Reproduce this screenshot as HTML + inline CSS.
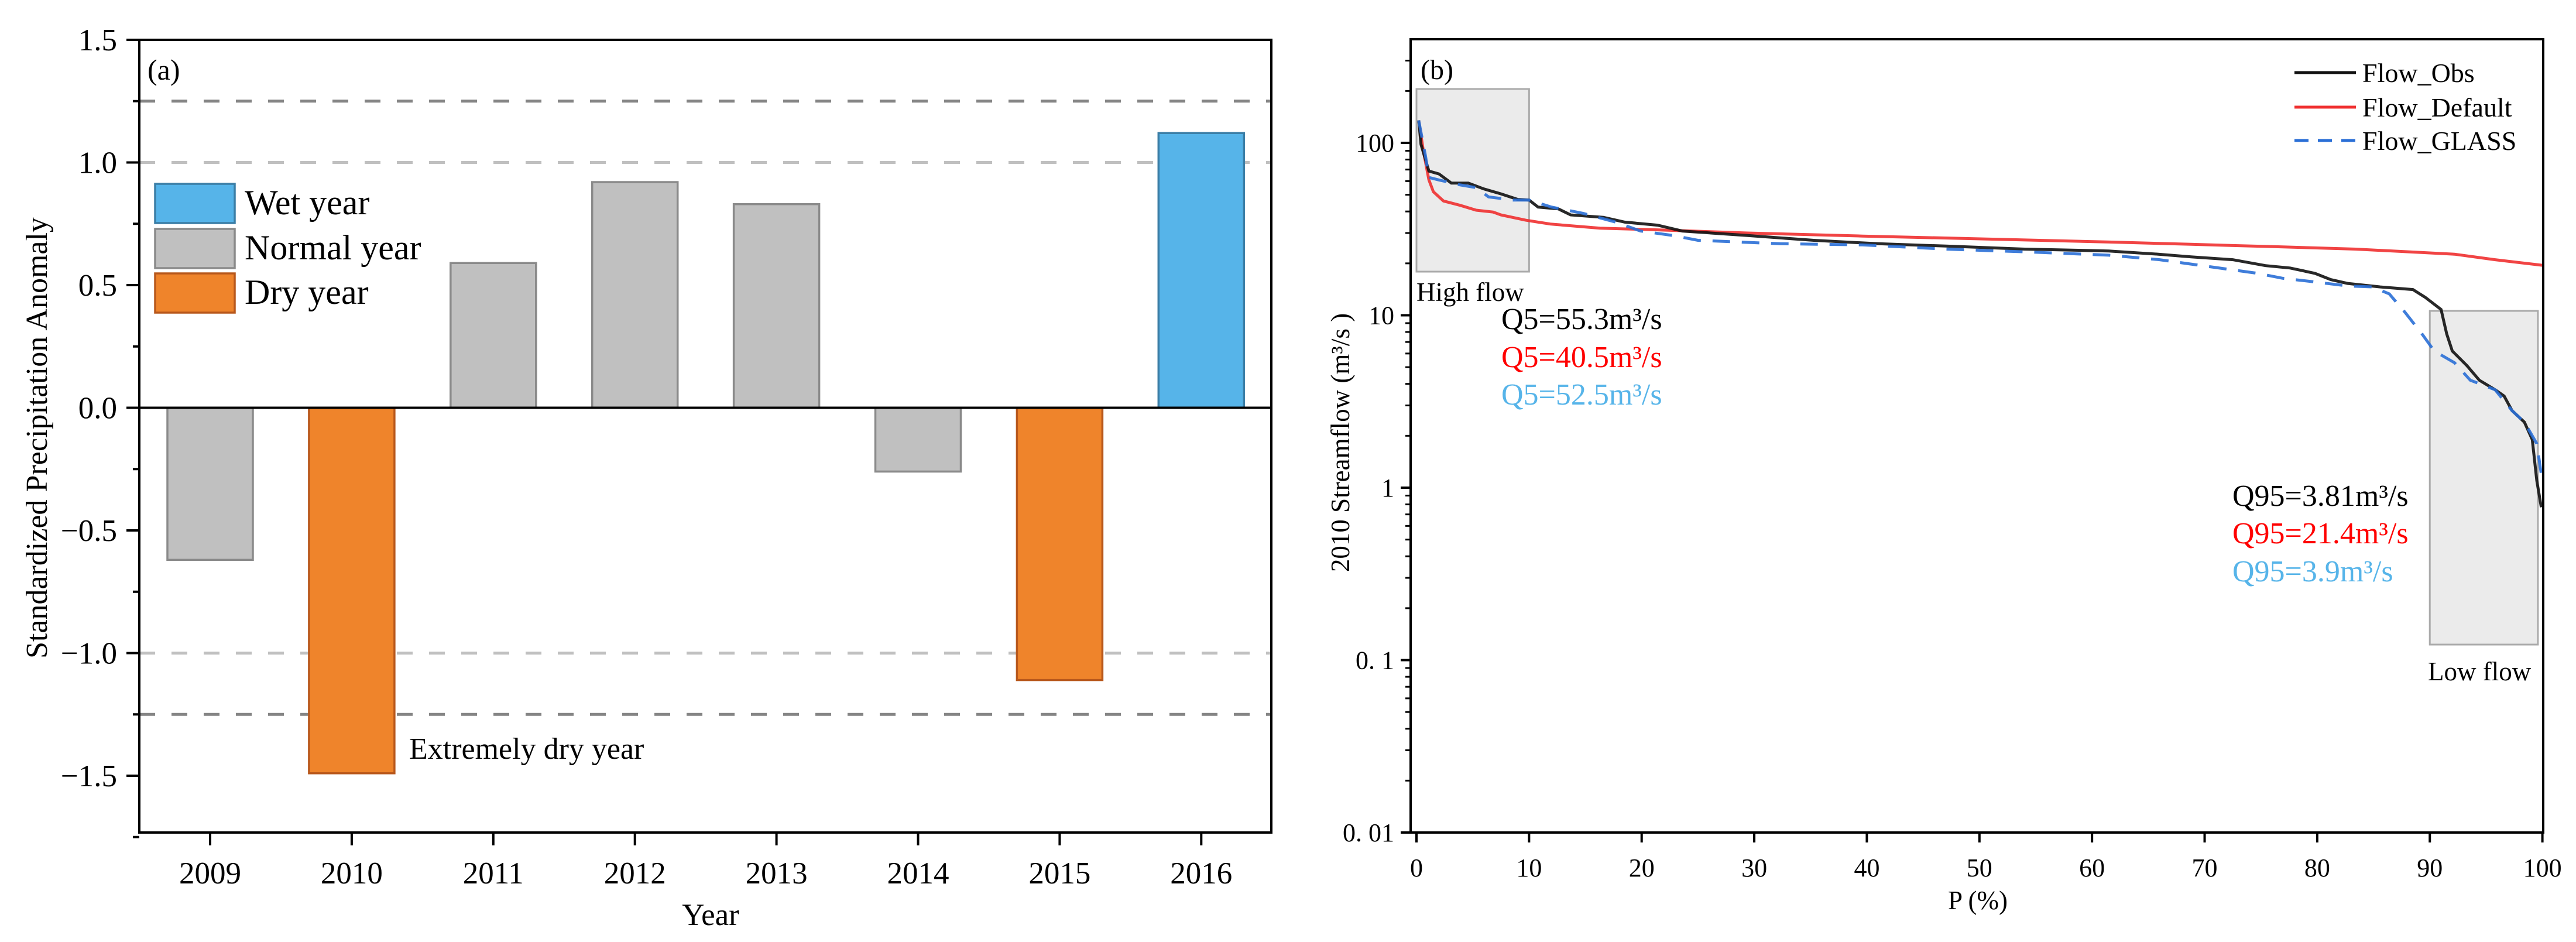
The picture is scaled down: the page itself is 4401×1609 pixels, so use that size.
<!DOCTYPE html>
<html><head><meta charset="utf-8"><style>
html,body{margin:0;padding:0;background:#fff;}
svg{display:block;font-family:"Liberation Serif",serif;}
svg text{font-family:"Liberation Serif","Times New Roman",serif;}
</style></head><body>
<svg id="fig" width="4401" height="1609" viewBox="0 0 4401 1609" xmlns="http://www.w3.org/2000/svg" font-family="Liberation Serif, serif">
<g id="pa"></g>
<g id="pb"></g>
</svg>
<script>
// ---------- Panel (a) data ----------
const years = ['2009','2010','2011','2012','2013','2014','2015','2016'];
const anomaly = [-0.62,-1.49,0.59,0.92,0.83,-0.26,-1.11,1.12];
const yearClass = ['normal','dry','normal','normal','normal','normal','dry','wet'];
const aTicks = [1.5,1.0,0.5,0.0,-0.5,-1.0,-1.5];
const aTickLabels = ['1.5','1.0','0.5','0.0','\u22120.5','\u22121.0','\u22121.5'];
const thresholds = [1.25,1.0,-1.0,-1.25];

// ---------- Panel (b) data ----------
const obsP = [0.2,0.4,1.1,2,3.1,4.6,6,7.5,9,10,10.8,12.6,13.7,16.6,18.5,21.4,23.6,29.4,35.3,41,47,54,61.5,65.9,68.8,72.5,75.4,77.6,79.8,81.2,82.7,85.6,88.5,89.6,91,91.5,92,93.3,94.4,95.8,96.6,97.3,98.4,99.1,99.5,99.9];
const obsQ = [135,98,68.6,66,58.4,58.4,54,50.6,47,46.6,42.4,41.4,38.2,37,34.7,33.3,30.8,29,27.2,26,25.2,24.2,23.6,22.6,21.8,21,19.4,18.8,17.5,16.1,15.3,14.6,14.1,12.7,10.8,7.8,6.2,5.1,4.2,3.7,3.4,2.8,2.4,1.9,1.1,0.77];
const defP = [0.2,0.6,1.1,1.5,2.4,3.9,5.3,6.8,7.5,9.7,11.9,16.3,21.4,29.4,39.6,50.6,61.5,68.8,76.1,83.4,92.2,95.8,100];
const defQ = [135,91,61,52,46,43.4,40.7,39.7,38.2,35.6,33.8,32,31.3,30,28.8,27.7,26.6,25.8,25,24.2,22.6,21,19.5];
const glsP = [0.2,0.8,1.1,2,3.9,5.3,6.4,8.6,10,12,14.8,17.7,19.9,22.8,25,32.3,39.6,47,54.2,61.5,66,68.8,71.8,74.7,76.9,79.8,82.7,84.9,86.4,87.8,89.3,90.4,92.2,93.6,95.8,97.3,98.4,99.5,99.9];
const glsQ = [135,84,63,60.9,57,55,48.6,46.6,46.6,42.4,39,34.7,30.8,29,27.2,26,25.6,24.2,23.3,22.3,21,19.8,18.6,17.5,16.4,15.6,14.8,14.6,13.3,10.4,7.8,6.2,5.3,4.2,3.7,2.8,2.4,1.8,1.2];
const bXTicks = [0,10,20,30,40,50,60,70,80,90,100];
const bYTicks = [100,10,1,0.1,0.01];
const bYTickLabels = ['100','10','1','0. 1','0. 01'];
const seriesNames = ['Flow_Obs','Flow_Default','Flow_GLASS'];
const q5Labels = ['Q5=55.3m\u00B3/s','Q5=40.5m\u00B3/s','Q5=52.5m\u00B3/s'];
const q95Labels = ['Q95=3.81m\u00B3/s','Q95=21.4m\u00B3/s','Q95=3.9m\u00B3/s'];

const NS='http://www.w3.org/2000/svg';
function mk(parent,tag,attrs,text){const e=document.createElementNS(NS,tag);for(const k in attrs)e.setAttribute(k,attrs[k]);if(tag==='text')e.setAttribute('font-family','Liberation Serif, serif');if(text!==undefined)e.textContent=text;parent.appendChild(e);return e;}

// ===== Panel A =====
const pa=document.getElementById('pa');
const AL=238,AR=2172,AT=68,AB=1422;
const ay=v=>696.5-419*v;
const ax=i=>359+241.9*i;
const barW=146;
const fills={wet:'#56b4e9',normal:'#c0c0c0',dry:'#ef842b'};
const strokes={wet:'#3b7ea6',normal:'#8a8a8a',dry:'#b8581c'};
thresholds.forEach(t=>{
  const l=mk(pa,'line',{x1:AL,x2:AR,y1:ay(t),y2:ay(t),stroke:Math.abs(t)>1.1?'#858585':'#c0c0c0','stroke-width':5,'stroke-dasharray':'27 28'});
  
  
});
anomaly.forEach((v,i)=>{
  const c=yearClass[i];
  const y0=ay(0),y1=ay(v);
  const r=mk(pa,'rect',{x:ax(i)-barW/2,y:Math.min(y0,y1),width:barW,height:Math.abs(y1-y0),fill:fills[c],stroke:strokes[c],'stroke-width':3.5});
  
  
});
let z=mk(pa,'line',{x1:AL,x2:AR,y1:ay(0),y2:ay(0),stroke:'#000','stroke-width':4});

let fr=mk(pa,'rect',{x:AL,y:AT,width:AR-AL,height:AB-AT,fill:'none',stroke:'#000','stroke-width':4});

aTicks.forEach((t,i)=>{
  const tk=mk(pa,'line',{x1:AL-22,x2:AL,y1:ay(t),y2:ay(t),stroke:'#000','stroke-width':4});
  
  const mt=mk(pa,'line',{x1:AL-11,x2:AL,y1:ay(t-0.25),y2:ay(t-0.25),stroke:'#000','stroke-width':4});
  
  const lb=mk(pa,'text',{x:200,y:ay(t)+18,'font-size':53,'text-anchor':'end'},aTickLabels[i]);
  
});
years.forEach((yr,i)=>{
  const tk=mk(pa,'line',{x1:ax(i),x2:ax(i),y1:AB,y2:AB+22,stroke:'#000','stroke-width':4});
  
  const lb=mk(pa,'text',{x:ax(i),y:1509,'font-size':53,'text-anchor':'middle'},yr);
  
});
</script>
<script>
// static labels panel A
(function(){
const pa=document.getElementById('pa');
function mk(parent,tag,attrs,text){const e=document.createElementNS('http://www.w3.org/2000/svg',tag);for(const k in attrs)e.setAttribute(k,attrs[k]);if(tag==='text')e.setAttribute('font-family','Liberation Serif, serif');if(text!==undefined)e.textContent=text;parent.appendChild(e);return e;}
let t;
t=mk(pa,'text',{x:1214,y:1580,'font-size':53,'text-anchor':'middle'},'Year');

t=mk(pa,'text',{x:0,y:0,'font-size':52,'text-anchor':'middle',transform:'translate(80,748) rotate(-90)'},'Standardized Precipitation Anomaly');

t=mk(pa,'text',{x:252,y:136,'font-size':50},'(a)');

t=mk(pa,'text',{x:699,y:1296,'font-size':52},'Extremely dry year');

const leg=[['Wet year','#56b4e9','#3b7ea6',314],['Normal year','#c0c0c0','#8a8a8a',391],['Dry year','#ef842b','#b8581c',467]];
leg.forEach(l=>{
  const g=mk(pa,'g',{});
  
  
  mk(g,'rect',{x:265,y:l[3],width:136,height:67,fill:l[1],stroke:l[2],'stroke-width':3.5});
  mk(g,'text',{x:418,y:l[3]+52,'font-size':60},l[0]);
});
})();
</script>
<script>
// ===== Panel B =====
(function(){
const pb=document.getElementById('pb');
function mk(parent,tag,attrs,text){const e=document.createElementNS('http://www.w3.org/2000/svg',tag);for(const k in attrs)e.setAttribute(k,attrs[k]);if(tag==='text')e.setAttribute('font-family','Liberation Serif, serif');if(text!==undefined)e.textContent=text;parent.appendChild(e);return e;}
const BL=2410,BR=4345,BT=67,BB=1422;
const bx=p=>2420+19.236*p;
const by=v=>244-294.5*(Math.log10(v)-2);
let e;
e=mk(pb,'rect',{x:bx(0),y:152,width:bx(10)-bx(0),height:312,fill:'#ebebeb',stroke:'#aaaaaa','stroke-width':3});

e=mk(pb,'rect',{x:bx(90),y:531,width:bx(99.6)-bx(90),height:570,fill:'#ebebeb',stroke:'#aaaaaa','stroke-width':3});

function path(P,Q){return P.map((p,i)=>(i?'L':'M')+bx(p).toFixed(1)+','+by(Q[i]).toFixed(1)).join(' ');}
e=mk(pb,'path',{d:path(defP,defQ),fill:'none',stroke:'#f03030','stroke-width':5,'stroke-opacity':0.9});

e=mk(pb,'path',{d:path(obsP,obsQ),fill:'none',stroke:'#111','stroke-width':5,'stroke-opacity':0.9});

e=mk(pb,'path',{d:path(glsP,glsQ),fill:'none',stroke:'#2a6fd6','stroke-width':5,'stroke-dasharray':'30 20','stroke-opacity':0.9});

e=mk(pb,'rect',{x:BL,y:BT,width:BR-BL,height:BB-BT,fill:'none',stroke:'#000','stroke-width':4});

bYTicks.forEach((v,i)=>{
  e=mk(pb,'line',{x1:BL-17,x2:BL,y1:by(v),y2:by(v),stroke:'#000','stroke-width':4});
  
  e=mk(pb,'text',{x:2382,y:by(v)+15,'font-size':44,'text-anchor':'end'},bYTickLabels[i]);
  
});
[0.01,0.1,1,10,100].forEach(d=>{for(let m=2;m<=9;m++){const v=d*m;if(by(v)<BT)continue;
  e=mk(pb,'line',{x1:BL-9,x2:BL,y1:by(v),y2:by(v),stroke:'#000','stroke-width':3});
  }});
bXTicks.forEach(p=>{
  e=mk(pb,'line',{x1:bx(p),x2:bx(p),y1:BB,y2:BB+17,stroke:'#000','stroke-width':4});
  
  e=mk(pb,'text',{x:bx(p),y:1497,'font-size':44,'text-anchor':'middle'},String(p));
  
});
e=mk(pb,'text',{x:3379,y:1553,'font-size':45,'text-anchor':'middle'},'P (%)');

e=mk(pb,'text',{x:0,y:0,'font-size':45,'text-anchor':'middle',transform:'translate(2305,756) rotate(-90)'},'2010 Streamflow (m\u00B3/s )');

e=mk(pb,'text',{x:2427,y:135,'font-size':48},'(b)');

e=mk(pb,'text',{x:2420,y:514,'font-size':45},'High flow');

e=mk(pb,'text',{x:4148,y:1162,'font-size':45},'Low flow');

const cols=['#000','#ff0000','#56b4e9'];
const legStroke=['#111','#f03030','#2a6fd6'];
[124,183,240].forEach((y,i)=>{
  const g=mk(pb,'g',{});
  
  
  const a={x1:3920,x2:4025,y1:y,y2:y,stroke:legStroke[i],'stroke-width':5};
  if(i===2)a['stroke-dasharray']='24 16';
  mk(g,'line',a);
  mk(g,'text',{x:4036,y:y+16,'font-size':46},seriesNames[i]);
});
[544,609,673].forEach((y,i)=>{
  e=mk(pb,'text',{x:2565,y:y+18,'font-size':52,fill:cols[i]},q5Labels[i]);
  
});
[846,910,975].forEach((y,i)=>{
  e=mk(pb,'text',{x:3814,y:y+18,'font-size':52,fill:cols[i]},q95Labels[i]);
  
});
})();
</script>
</body></html>
